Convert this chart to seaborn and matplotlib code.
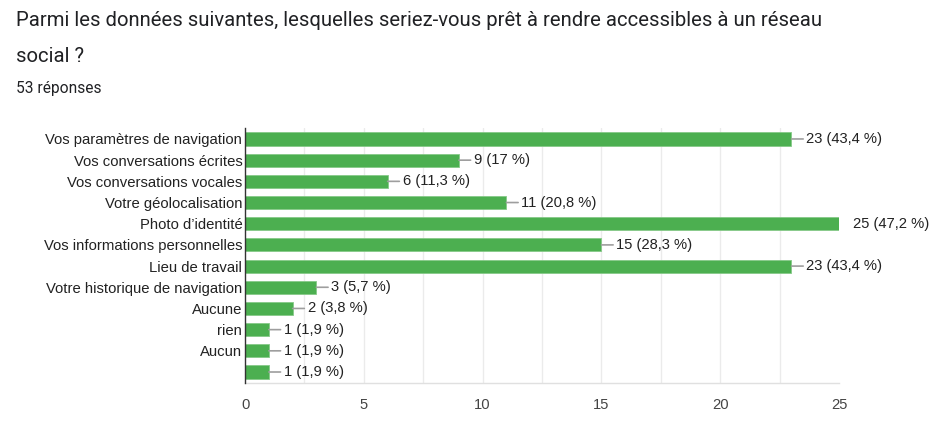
import matplotlib
matplotlib.use("Agg")
import matplotlib.pyplot as plt
import pandas as pd
import seaborn as sns

# data
CATEGORIES = [
    "Vos paramètres de navigation",
    "Vos conversations écrites",
    "Vos conversations vocales",
    "Votre géolocalisation",
    "Photo d’identité",
    "Vos informations personnelles",
    "Lieu de travail",
    "Votre historique de navigation",
    "Aucune",
    "rien",
    "Aucun",
    "",
]
COUNTS = [23, 9, 6, 11, 25, 15, 23, 3, 2, 1, 1, 1]
TOTAL = 53
X_TICKS = [0, 5, 10, 15, 20, 25]
X_GRID = [2.5, 5, 7.5, 10, 12.5, 15, 17.5, 20, 22.5]

TITLE_1 = "Parmi les données suivantes, lesquelles seriez-vous prêt à rendre accessibles à un réseau"
TITLE_2 = "social ?"
SUBTITLE = f"{TOTAL} réponses"

GREEN = "#4caf50"
TEXT = "#222222"


def pct_label(n: int) -> str:
    p = round(n / TOTAL * 100, 1)
    s = f"{p:.1f}".rstrip("0").rstrip(".").replace(".", ",")
    return f"{n} ({s} %)"


df = pd.DataFrame({"category": CATEGORIES, "count": COUNTS})

sns.set_style("white")
plt.rcParams["font.family"] = ["Liberation Sans", "DejaVu Sans"]

fig = plt.figure(figsize=(9.39, 4.23), dpi=100)
ax = fig.add_axes([0.261, 0.0955, 0.6325, 0.601])

sns.barplot(data=df, x="count", y="category", order=CATEGORIES, orient="h",
            color=GREEN, saturation=1, width=0.618, edgecolor="#86c988",
            linewidth=0.6, ax=ax, zorder=3)

ax.set_xlim(0, 25)
ax.set_ylim(len(CATEGORIES) - 0.5, -0.5)
for g in X_GRID:
    ax.axvline(g, color="#ebebeb", linewidth=1, zorder=0)

# value labels with a short grey connector
for i, n in enumerate(COUNTS):
    if n >= ax.get_xlim()[1]:
        ax.annotate(pct_label(n), xy=(n, i), xytext=(14, 0), textcoords="offset pixels",
                    ha="left", va="center", fontsize=10.6, color=TEXT, annotation_clip=False)
    else:
        ax.annotate(pct_label(n), xy=(n, i), xytext=(15, 0), textcoords="offset pixels",
                    ha="left", va="center", fontsize=10.6, color=TEXT,
                    arrowprops=dict(arrowstyle="-", color="#9e9e9e", lw=1.2,
                                    shrinkA=0, shrinkB=0, relpos=(0, 0.5)))

ax.set_xticks(X_TICKS)
ax.set_xticklabels([str(t) for t in X_TICKS], fontsize=10.6, color="#444444")
ax.tick_params(axis="x", length=0, pad=11)
ax.tick_params(axis="y", length=0, pad=2, labelsize=10.75, labelcolor=TEXT)
ax.set_xlabel("")
ax.set_ylabel("")

for side in ["top", "right"]:
    ax.spines[side].set_visible(False)
ax.spines["left"].set_color("#333333")
ax.spines["left"].set_linewidth(1)
ax.spines["left"].set_zorder(4)
ax.spines["bottom"].set_color("#e0e0e0")
ax.spines["bottom"].set_linewidth(1)

fig.text(16 / 939, 1 - 21 / 423, TITLE_1, fontsize=14.6, family="Roboto",
         color="#202124", va="center", ha="left")
fig.text(16 / 939, 1 - 57 / 423, TITLE_2, fontsize=14.6, family="Roboto",
         color="#202124", va="center", ha="left")
fig.text(16 / 939, 1 - 88 / 423, SUBTITLE, fontsize=11.2, family="Roboto",
         color="#202124", va="center", ha="left")

fig.savefig("out.png", dpi=100, facecolor="white")
